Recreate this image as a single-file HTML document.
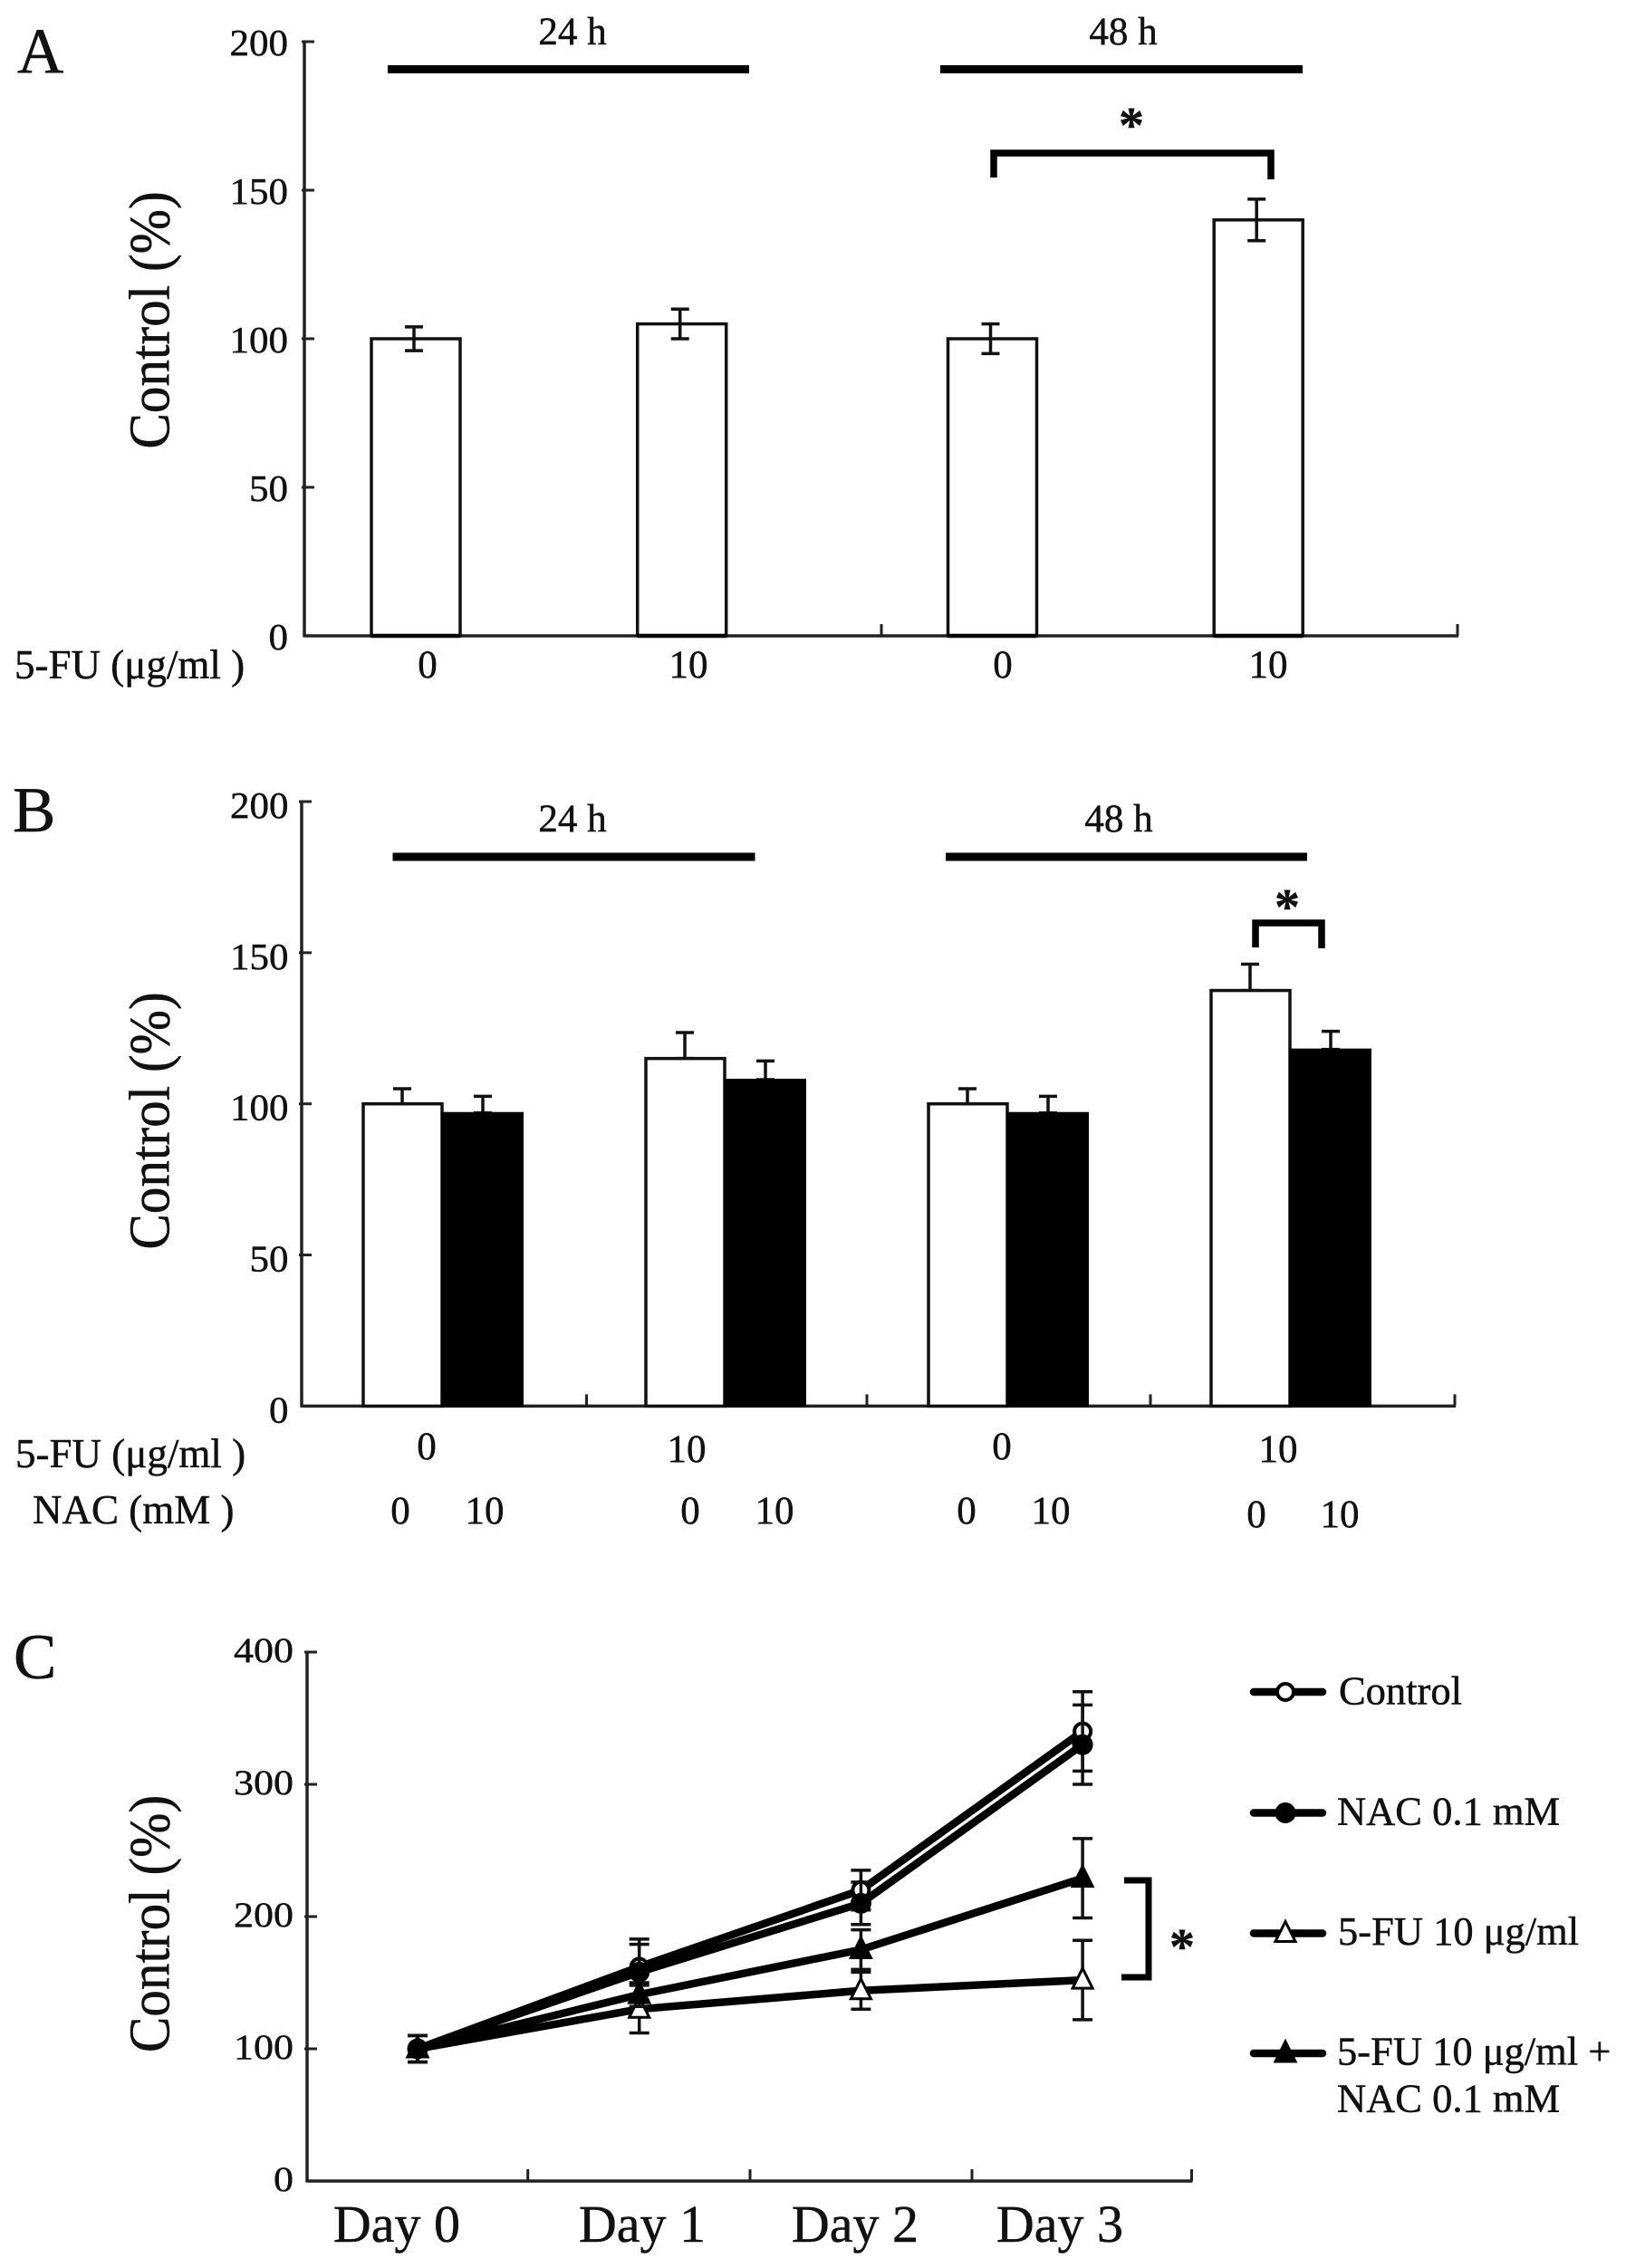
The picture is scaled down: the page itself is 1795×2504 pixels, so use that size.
<!DOCTYPE html>
<html lang="en">
<head>
<meta charset="utf-8">
<title>Control (%) panels A, B and C</title>
<style>
html,body{margin:0;padding:0;background:#fff;}
svg{display:block;}
text{font-family:"Liberation Serif","DejaVu Serif",serif;fill:#111;stroke:#111;stroke-width:0.5px;}
</style>
</head>
<body>
<svg id="figure" xmlns="http://www.w3.org/2000/svg" width="1795" height="2504" viewBox="0 0 1795 2504">
  <rect x="0" y="0" width="1795" height="2504" fill="#fff"/>

  <text x="19" y="80" font-size="71">A</text>
  <text transform="translate(186.5,353.5) rotate(-90) scale(0.925,1)" text-anchor="middle" font-size="64">Control (%)</text>
  <text x="632" y="49" font-size="43" text-anchor="middle">24 h</text>
  <text x="1240" y="49" font-size="43" text-anchor="middle">48 h</text>
  <rect x="428" y="72" width="399" height="9" fill="#000"/>
  <rect x="1038" y="72" width="400" height="9" fill="#000"/>
  <text x="16" y="749" font-size="45">5-FU (μg/ml )</text>
  <text x="472" y="748" font-size="43" text-anchor="middle">0</text>
  <text x="760" y="748" font-size="43" text-anchor="middle">10</text>
  <text x="1107" y="748" font-size="43" text-anchor="middle">0</text>
  <text x="1400" y="748" font-size="43" text-anchor="middle">10</text>
  <path d="M1097 196V169H1403V198" fill="none" stroke="#000" stroke-width="7.5"/>
  <text x="1249" y="157" font-size="56" font-weight="bold" text-anchor="middle">*</text>

  <text x="14" y="918" font-size="71">B</text>
  <text transform="translate(186.5,1237.5) rotate(-90) scale(0.925,1)" text-anchor="middle" font-size="64">Control (%)</text>
  <text x="632" y="918" font-size="43" text-anchor="middle">24 h</text>
  <text x="1235" y="918" font-size="43" text-anchor="middle">48 h</text>
  <rect x="433.5" y="941.5" width="400" height="9" fill="#000"/>
  <rect x="1044" y="941.5" width="399" height="9" fill="#000"/>
  <text x="17" y="1620" font-size="45">5-FU (μg/ml )</text>
  <text x="36" y="1682" font-size="45">NAC (mM )</text>
  <text x="471" y="1611" font-size="43" text-anchor="middle">0</text>
  <text x="758" y="1614" font-size="43" text-anchor="middle">10</text>
  <text x="1106" y="1611" font-size="43" text-anchor="middle">0</text>
  <text x="1411" y="1614" font-size="43" text-anchor="middle">10</text>
  <text x="442" y="1682" font-size="43" text-anchor="middle">0</text>
  <text x="535" y="1682" font-size="43" text-anchor="middle">10</text>
  <text x="762" y="1682" font-size="43" text-anchor="middle">0</text>
  <text x="855" y="1682" font-size="43" text-anchor="middle">10</text>
  <text x="1067" y="1682" font-size="43" text-anchor="middle">0</text>
  <text x="1160" y="1682" font-size="43" text-anchor="middle">10</text>
  <text x="1387" y="1686" font-size="43" text-anchor="middle">0</text>
  <text x="1479" y="1686" font-size="43" text-anchor="middle">10</text>
  <path d="M1386 1046V1019H1459V1047" fill="none" stroke="#000" stroke-width="7.5"/>
  <text x="1421" y="1020" font-size="56" font-weight="bold" text-anchor="middle">*</text>

  <text x="15" y="1853" font-size="71">C</text>
  <text transform="translate(186.5,2124) rotate(-90) scale(0.925,1)" text-anchor="middle" font-size="64">Control (%)</text>
  <text x="438" y="2475" font-size="58" text-anchor="middle">Day 0</text>
  <text x="709" y="2475" font-size="58" text-anchor="middle">Day 1</text>
  <text x="944" y="2475" font-size="58" text-anchor="middle">Day 2</text>
  <text x="1170" y="2475" font-size="58" text-anchor="middle">Day 3</text>
  <path d="M1241 2076H1268V2183H1238" fill="none" stroke="#000" stroke-width="7"/>
  <text x="1305" y="2168" font-size="56" font-weight="bold" text-anchor="middle">*</text>

  <g>
    <text x="1478" y="1881.5" font-size="44.5">Control</text>
    <text x="1476" y="2014.5" font-size="44.5">NAC 0.1 mM</text>
    <text x="1477" y="2147" font-size="44.5">5-FU 10 μg/ml</text>
    <text x="1476" y="2279.5" font-size="44.5">5-FU 10 μg/ml +</text>
    <text x="1476" y="2331.5" font-size="44.5">NAC 0.1 mM</text>
  </g>
</svg>

<script>
// Panel A data
const aValues = [100, 105, 100, 140];
const aErrors = [4, 5, 5, 7];
const aTickLabels = [0, 50, 100, 150, 200];

// Panel B data
const bPlainValues = [100, 115, 100, 137.5];
const bPlainErrors = [5, 8.6, 5, 8.7];
const bNacValues = [97, 108, 97, 118];
const bNacErrors = [5.5, 6.2, 5.5, 6];
const bTickLabels = [0, 50, 100, 150, 200];

// Panel C data
const cDays = ['Day 0', 'Day 1', 'Day 2', 'Day 3'];
const cTickLabels = [0, 100, 200, 300, 400];
const cControl = [100, 162, 220, 340];
const cControlErr = [10, 21, 15, 30];
const cNac = [100, 158, 210, 330];
const cNacErr = [10, 21, 16, 30];
const cFu = [100, 130, 144, 152];
const cFuErr = [10, 18, 14, 30];
const cFuNac = [100, 141, 175, 229];
const cFuNacErr = [10, 9, 15, 30];

const svg = document.getElementById('figure');
const NS = 'http://www.w3.org/2000/svg';

function make(tag, attrs, name) {
  const el = document.createElementNS(NS, tag);
  for (const k in attrs) el.setAttribute(k, attrs[k]);
  
  
  svg.appendChild(el);
  return el;
}

// Axis functions
function yA(v) { return 702 - v * 3.28; }
function yB(v) { return 1552.4 - v * 3.337; }
function yC(v) { return 2408 - v * 1.46; }
function xA(i) { return 459 + 293.7 * (i % 2) + 636.5 * Math.floor(i / 2); }
function xB(i) { return 488 + 312 * i; }
function xC(i) { return 461 + 244.7 * i; }

function drawAxes(prefix, ticks, yFn, axisX, xEnd, xTicks, labelRight, labelDy, labelScale, size) {
  make('line', {x1: axisX, y1: yFn(ticks[ticks.length - 1]), x2: axisX, y2: yFn(0) + 1.5, stroke: '#222', 'stroke-width': 3.5}, prefix + '-y-axis');
  make('line', {x1: axisX, y1: yFn(0), x2: xEnd + 1, y2: yFn(0), stroke: '#222', 'stroke-width': 3.5}, prefix + '-x-axis');
  ticks.forEach(function (t) {
    if (t !== 0) {
      make('line', {x1: axisX - 3, y1: yFn(t), x2: axisX + 11, y2: yFn(t), stroke: '#222', 'stroke-width': 3}, prefix + '-y-tick');
    }
    const label = make('text', {transform: 'translate(' + labelRight + ',' + (yFn(t) + labelDy) + ') scale(1,' + labelScale + ')', 'text-anchor': 'end', 'font-size': size}, prefix + '-y-tick-label');
    label.textContent = String(t);
  });
  xTicks.forEach(function (x) {
    make('line', {x1: x, y1: yFn(0) - 13, x2: x, y2: yFn(0), stroke: '#222', 'stroke-width': 3}, prefix + '-x-tick');
  });
}

function errorBar(name, x, yTop, yBottom, half, width) {
  make('line', {x1: x, y1: yTop, x2: x, y2: yBottom, stroke: '#111', 'stroke-width': width}, name + '-stem');
  make('line', {x1: x - half, y1: yTop, x2: x + half, y2: yTop, stroke: '#111', 'stroke-width': width}, name + '-cap-top');
  if (yBottom !== null) {
    make('line', {x1: x - half, y1: yBottom, x2: x + half, y2: yBottom, stroke: '#111', 'stroke-width': width}, name + '-cap-bottom');
  }
}

// Panel A
drawAxes('panel-a', aTickLabels, yA, 336, 1609, [973, 1609], 318, 15, 0.95, 43);
aValues.forEach(function (v, i) {
  const cx = xA(i);
  make('rect', {x: cx - 49, y: yA(v), width: 98, height: yA(0) - yA(v), fill: '#fff', stroke: '#111', 'stroke-width': 3.5}, 'panel-a-bar');
  make('line', {x1: cx - 49, y1: yA(0), x2: cx + 49, y2: yA(0), stroke: '#000', 'stroke-width': 4.5}, 'panel-a-bar-base');
  errorBar('panel-a-error-bar', cx - 2, yA(v + aErrors[i]), yA(v - aErrors[i]), 10, 3.5);
});

// Panel B
drawAxes('panel-b', bTickLabels, yB, 333, 1606, [647.5, 957, 1270, 1606], 318.5, 18, 0.95, 43);
bPlainValues.forEach(function (v, i) {
  const edge = xB(i);
  const n = bNacValues[i];
  errorBar('panel-b-plain-error', edge - 44, yB(v + bPlainErrors[i]), yB(v), 10, 3.5);
  errorBar('panel-b-nac-error', edge + 45, yB(n + bNacErrors[i]), yB(n), 10, 3.5);
  make('rect', {x: edge - 87, y: yB(v), width: 87, height: yB(0) - yB(v), fill: '#fff', stroke: '#111', 'stroke-width': 3.5}, 'panel-b-bar-no-nac');
  make('rect', {x: edge, y: yB(n), width: 89, height: yB(0) - yB(n), fill: '#000', stroke: '#000', 'stroke-width': 2}, 'panel-b-bar-nac');
});

// Panel C
drawAxes('panel-c', cTickLabels, yC, 339, 1315.5, [582.7, 828, 1073, 1315.5], 324, 11, 0.9, 44);

function circleMarker(name, x, y, hollow) {
  make('circle', {cx: x, cy: y, r: hollow ? 9 : 11, fill: hollow ? '#fff' : '#000', stroke: '#000', 'stroke-width': hollow ? 4 : 1}, name);
}
function triangleMarker(name, x, y, hollow) {
  const pts = [[x, y - 13], [x + 11, y + 9], [x - 11, y + 9]].map(function (p) { return p.join(','); }).join(' ');
  make('polygon', {points: pts, fill: hollow ? '#fff' : '#000', stroke: '#000', 'stroke-width': 3, 'stroke-linejoin': 'miter'}, name);
}

function drawSeries(name, values, errors, marker, hollow) {
  values.forEach(function (v, i) {
    errorBar(name + '-error-bar', xC(i), yC(v + errors[i]), yC(v - errors[i]), 11, 3.5);
  });
  const pts = values.map(function (v, i) { return xC(i) + ',' + yC(v); }).join(' ');
  make('polyline', {points: pts, fill: 'none', stroke: '#000', 'stroke-width': 8.5, 'stroke-linejoin': 'round'}, name + '-line');
  values.forEach(function (v, i) {
    marker(name + '-marker', xC(i), yC(v), hollow);
  });
}

drawSeries('series-control', cControl, cControlErr, circleMarker, true);
drawSeries('series-nac', cNac, cNacErr, circleMarker, false);
drawSeries('series-5fu', cFu, cFuErr, triangleMarker, true);
drawSeries('series-5fu-nac', cFuNac, cFuNacErr, triangleMarker, false);

// Legend swatches
function legendSwatch(name, y, marker, hollow) {
  make('line', {x1: 1384, y1: y, x2: 1460, y2: y, stroke: '#000', 'stroke-width': 8.5, 'stroke-linecap': 'round'}, name + '-line');
  marker(name + '-marker', 1419, y, hollow);
}
legendSwatch('legend-swatch-control', 1868, circleMarker, true);
legendSwatch('legend-swatch-nac', 2001.5, circleMarker, false);
legendSwatch('legend-swatch-5fu', 2134.5, triangleMarker, true);
legendSwatch('legend-swatch-5fu-nac', 2267, triangleMarker, false);
</script>
</body>
</html>
